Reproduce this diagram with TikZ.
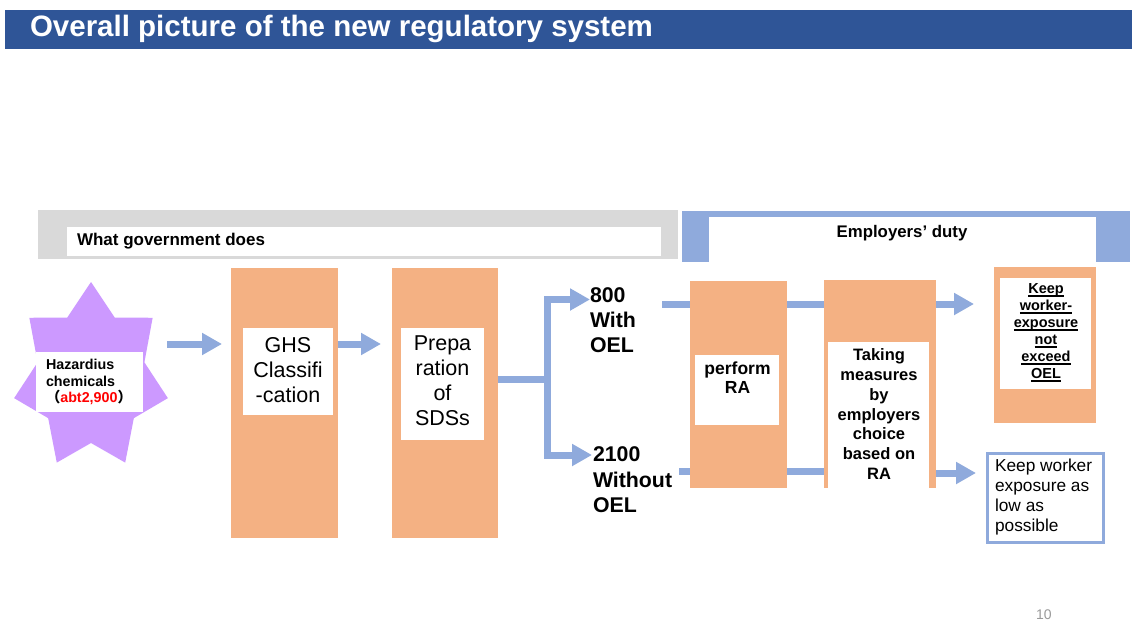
\documentclass[tikz,border=0pt]{standalone}
\usepackage{fontspec}
\setmainfont{Liberation Sans}
\newfontfamily\cjkfont{Noto Sans CJK JP}
\usetikzlibrary{arrows.meta}
\definecolor{titleblue}{HTML}{2F5597}
\definecolor{bandgray}{HTML}{D9D9D9}
\definecolor{flowblue}{HTML}{8FAADC}
\definecolor{boxorange}{HTML}{F4B183}
\definecolor{starpurple}{HTML}{CC99FF}
\definecolor{pagegray}{HTML}{9A9A9A}
\newcommand\fsz[2]{\fontsize{#1pt}{#2pt}\selectfont}
% underline drawn at a fixed depth below the baseline
\newcommand\ul[1]{\setbox0\hbox{#1}\rlap{\rule[-2.6pt]{\wd0}{1.1pt}}\box0}
\begin{document}
\begin{tikzpicture}[x=1pt,y=-1pt,
  every node/.style={inner sep=0pt,outer sep=0pt},
  panel/.style={anchor=north west},
  boxsize/.style 2 args={minimum width=#1pt,minimum height=#2pt},
  column/.style={panel,fill=boxorange},
  card/.style={panel,fill=white},
  flow/.style={draw=flowblue,line width=7pt},
  flowarrow/.style={flow,-{Triangle[length=20pt,width=21pt]}}]

\useasboundingbox[fill=white] (0,0) rectangle (1132,621);

% title bar
\node[panel,fill=titleblue,boxsize={1127}{39}] (titlebar) at (5,10) {};
\node[anchor=north west,text=white,font=\bfseries\fsz{29.5}{34}] (title) at (30,15)
  {Overall picture of the new regulatory system};

% section bands
\node[panel,fill=bandgray,boxsize={640}{49}] (govband) at (38,210) {};
\node[card,boxsize={594}{29}] (govcard) at (67,227) {};
\node[anchor=north west,font=\bfseries\fsz{17}{20}] (govtext) at (77,233) {What government does};

\node[panel,fill=flowblue,boxsize={448}{51}] (empband) at (682,210.5) {};
\node[card,boxsize={387}{44.5}] (empcard) at (709,217) {};
\node[anchor=north,font=\bfseries\fsz{16.8}{20}] (emptext) at (902,225) {Employers’ duty};

% hazardous chemicals star
\begin{scope}[shift={(91,377)},xscale=0.83]
  \fill[starpurple] (270:95)
    \foreach \i in {0,...,6} { -- ({270+(\i+0.5)*360/7}:66) -- ({270+(\i+1)*360/7}:95) } -- cycle;
\end{scope}
\node[card,boxsize={107.5}{60}] (hazcard) at (35.7,352) {};
\node[anchor=north west,align=left,font=\bfseries\fsz{14.3}{16.7}] (haz) at (46,359)
  {Hazardius\\chemicals\\{\cjkfont （}\textcolor{red}{abt2,900}{\cjkfont ）}};

% government steps
\node[column,boxsize={106.5}{270}] (ghs) at (231,268) {};
\node[card,boxsize={90}{87}] (ghscard) at (243,328) {};
\node[anchor=north,align=center,font=\fsz{21.5}{25}] (ghstext) at (288,337) {GHS\\Classifi\\-cation};

\node[column,boxsize={105.5}{270}] (sds) at (392,268) {};
\node[card,boxsize={83}{111.5}] (sdscard) at (401,328) {};
\node[anchor=north,align=center,font=\fsz{21.5}{25}] (sdstext) at (442.5,336) {Prepa\\ration\\of\\SDSs};

% branches
\node[anchor=north west,align=left,font=\bfseries\fsz{21.3}{25}] (with) at (590,288) {800\\With\\OEL};
\node[anchor=north west,align=left,font=\bfseries\fsz{21.3}{25.5}] (without) at (593,447) {2100\\Without\\OEL};

% employers' steps
\node[column,boxsize={97}{207}] (ra) at (690,281) {};
\node[card,boxsize={84}{70}] (racard) at (695,355) {};
\node[anchor=north,align=center,font=\bfseries\fsz{17.5}{18.5}] (ratext) at (737.5,362) {perform\\RA};

\node[column,boxsize={112}{208}] (tm) at (824,280) {};
\node[card,boxsize={101}{146}] (tmcard) at (828,342) {};
\node[anchor=north,align=center,font=\bfseries\fsz{16.5}{19.7}] (tmtext) at (879,349)
  {Taking\\measures\\by\\employers\\choice\\based on\\RA};

\node[column,boxsize={102}{156}] (keep) at (994,267) {};
\node[card,boxsize={91}{111}] (keepcard) at (1000,278) {};
\node[anchor=north,align=center,font=\bfseries\fsz{14.5}{17}] (keeptext) at (1046,284)
  {\ul{Keep}\\\ul{worker-}\\\ul{exposure}\\\ul{not}\\\ul{exceed}\\\ul{OEL}};

\node[panel,draw=flowblue,line width=3pt,fill=white,boxsize={116}{89}] (low) at (987.5,453) {};
\node[anchor=north west,align=left,font=\fsz{17.3}{19.9}] (lowtext) at (995,459)
  {Keep worker\\exposure as\\low as\\possible};

% connectors
\coordinate (a1) at (167,344);
\draw[flowarrow,shorten >=9pt] (a1) -- (a1 -| ghs.west);
\draw[flowarrow,shorten >=11pt] (ghs.east |- a1) -- (a1 -| sds.west);

\coordinate (fork) at (547,379);
\coordinate (withend) at (590,299.5);
\coordinate (withoutend) at (592,455);
\draw[flow] (fork -| sds.east) -- (fork);
\draw[flowarrow] (fork) |- (withend);
\draw[flowarrow] (fork) |- (withoutend);

\coordinate (rowA) at (662,304);
\draw[flow] (rowA) -- (rowA -| ra.west);
\draw[flow] (rowA -| ra.east) -- (rowA -| tm.west);
\draw[flowarrow,shorten >=20pt] (rowA -| tm.east) -- (rowA -| keep.west);

\coordinate (rowB) at (679,471);
\coordinate (rowC) at (936,473);
\draw[flow] (rowB) -- (rowB -| ra.west);
\draw[flow] (rowB -| ra.east) -- (rowB -| tm.west);
\draw[flowarrow,shorten >=11.5pt] (rowC -| tm.east) -- (rowC -| low.west);

% page number
\node[anchor=north west,text=pagegray,font=\fsz{14}{16}] (pageno) at (1036,610) {10};
\end{tikzpicture}
\end{document}
